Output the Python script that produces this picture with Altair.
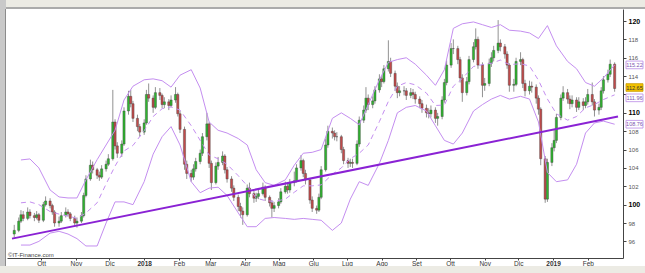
import altair as alt
import pandas as pd

# ---------------- data ----------------
first_open = 96.8
close = [
    97.2, 98.2, 98.9, 98.5, 99.2, 98.8, 98.6, 98.9, 98.3, 100.0,
    100.4, 99.9, 99.2, 98.0, 98.2, 98.8, 99.2, 99.0, 98.5, 98.0,
    98.2, 98.8, 101.0, 102.8, 104.3, 103.8, 103.2, 103.0, 103.9, 104.4,
    105.0, 109.0, 106.4, 105.6, 106.6, 110.2, 111.8, 111.0, 109.4, 108.5,
    107.9, 108.9, 112.0, 111.6, 110.6, 112.2, 111.9, 110.9, 111.2, 110.8,
    111.4, 112.0, 109.9, 108.2, 104.4, 103.4, 103.0, 103.9, 104.7, 105.6,
    107.4, 108.8, 104.5, 102.4, 104.2, 104.6, 105.3, 103.8, 102.8, 101.8,
    100.8, 99.8, 99.3, 98.9, 101.8, 101.2, 100.7, 100.9, 101.2, 101.9,
    100.8, 100.2, 99.6, 99.9, 100.3, 101.4, 102.0, 101.6, 102.4, 102.6,
    104.0, 104.8, 103.4, 102.7, 100.5, 99.6, 99.4, 100.8, 103.8, 106.5,
    108.0, 107.8, 107.4, 107.4, 106.0, 104.8, 104.5, 104.6, 104.5, 106.6,
    109.2, 110.3, 111.6, 110.9, 111.3, 112.5, 113.7, 113.4, 114.8, 115.6,
    114.3, 112.9, 112.2, 112.4, 112.4, 111.9, 112.2, 112.0, 111.5, 111.0,
    110.5, 110.0, 109.9, 110.3, 109.4, 109.6, 111.4, 113.3, 115.2, 117.0,
    117.0, 115.8, 113.8, 112.2, 113.4, 115.8, 117.2, 118.0, 115.2, 113.0,
    113.2, 115.4, 116.0, 116.8, 117.6, 117.2, 116.4, 115.2, 113.0, 113.1,
    115.6, 115.8, 113.2, 112.4, 112.9, 112.8, 111.6, 110.4, 105.0, 100.6,
    104.6, 106.2, 107.0, 109.5, 111.6, 112.2, 111.5, 111.0, 111.4, 110.6,
    111.2, 110.8, 111.2, 112.0, 111.2, 110.3, 110.6, 112.4, 113.6, 114.2,
    115.3, 112.65,
]
high = [
    97.8, 98.6, 99.4, 99.3, 99.7, 99.5, 99.1, 99.3, 99.1, 100.3,
    100.9, 100.7, 100.1, 99.4, 98.7, 99.2, 99.7, 99.5, 99.2, 98.8,
    98.6, 99.2, 101.3, 103.2, 104.9, 104.7, 104.0, 103.6, 104.3, 104.8,
    105.5, 112.5, 109.3, 106.8, 107.0, 110.6, 112.4, 112.5, 111.3, 109.8,
    108.8, 109.3, 112.5, 113.2, 111.9, 112.8, 112.7, 112.1, 111.7, 111.5,
    111.9, 112.8, 112.2, 110.2, 108.5, 104.8, 103.8, 104.4, 105.1, 106.0,
    107.8, 110.0, 109.0, 104.8, 104.6, 105.2, 105.8, 105.5, 104.1, 103.1,
    102.1, 101.1, 100.2, 99.7, 102.2, 102.4, 101.5, 101.3, 101.6, 102.4,
    102.1, 101.0, 100.5, 100.3, 100.7, 101.8, 102.5, 102.3, 102.8, 103.6,
    104.4, 105.4, 105.0, 103.8, 102.9, 100.9, 99.9, 101.2, 104.2, 107.2,
    108.6, 108.4, 108.1, 107.9, 107.6, 106.3, 105.1, 105.0, 105.0, 107.0,
    109.6, 110.8, 112.8, 112.0, 111.8, 112.9, 114.2, 114.0, 115.2, 117.9,
    116.0, 114.6, 113.3, 112.9, 112.9, 112.7, 112.7, 112.6, 112.3, 111.8,
    111.4, 110.9, 110.5, 110.8, 110.6, 110.0, 111.8, 113.7, 115.7, 117.6,
    118.0, 117.3, 116.1, 114.2, 113.9, 116.2, 117.7, 119.2, 118.3, 115.5,
    113.8, 115.9, 116.6, 117.3, 120.1, 118.0, 117.5, 116.7, 115.4, 113.7,
    116.0, 116.6, 116.0, 113.6, 113.5, 113.4, 113.1, 111.9, 110.6, 105.3,
    105.0, 106.7, 108.2, 109.9, 112.0, 112.9, 112.6, 111.9, 111.9, 111.7,
    111.7, 111.6, 111.7, 112.6, 113.3, 111.5, 111.0, 112.8, 114.0, 114.7,
    115.8, 115.5,
]
low = [
    96.4, 97.0, 98.0, 98.2, 98.3, 98.5, 98.2, 98.4, 98.0, 98.1,
    99.8, 99.6, 98.9, 97.6, 97.6, 98.0, 98.6, 98.7, 98.2, 97.6,
    97.5, 98.0, 98.6, 100.8, 102.6, 103.4, 102.8, 102.6, 102.8, 103.6,
    104.2, 104.8, 106.0, 105.1, 105.2, 106.4, 109.8, 110.6, 109.0, 108.0,
    107.4, 107.6, 108.7, 111.2, 110.0, 110.4, 111.4, 110.5, 110.5, 110.3,
    110.6, 111.1, 109.6, 107.8, 103.8, 102.8, 102.5, 102.7, 103.6, 104.4,
    105.3, 107.0, 104.0, 101.6, 102.2, 103.8, 104.3, 103.4, 102.4, 101.4,
    100.4, 99.3, 98.6, 97.8, 98.7, 100.8, 100.2, 100.3, 100.6, 101.0,
    100.4, 99.8, 98.6, 99.2, 99.6, 100.1, 101.2, 101.2, 101.3, 102.0,
    102.4, 103.7, 103.0, 102.2, 100.1, 99.2, 99.0, 99.2, 100.6, 103.6,
    106.2, 107.2, 107.0, 106.9, 105.6, 104.4, 104.0, 104.1, 104.0, 104.3,
    106.3, 108.9, 110.0, 110.3, 110.5, 111.0, 112.2, 112.8, 113.2, 114.5,
    113.9, 112.4, 111.6, 111.8, 111.9, 111.4, 111.6, 111.5, 111.0, 110.5,
    110.0, 109.5, 109.4, 109.5, 108.9, 108.6, 109.3, 111.1, 113.0, 114.9,
    116.4, 115.3, 113.3, 111.2, 111.9, 113.1, 115.5, 116.9, 114.8, 111.7,
    112.4, 112.9, 115.0, 115.6, 116.5, 116.7, 115.9, 114.8, 112.3, 112.3,
    112.9, 115.2, 112.7, 111.8, 112.0, 112.2, 111.0, 109.8, 104.3, 100.2,
    100.3, 104.2, 105.8, 106.7, 109.2, 111.3, 111.0, 110.4, 110.6, 110.1,
    110.3, 110.3, 110.5, 110.9, 110.8, 109.6, 109.8, 110.3, 112.1, 113.3,
    113.9, 112.3,
]
# Bollinger bands, read every third candle
upper = [
    104.87, 104.98, 104.0, 101.6, 100.84, 100.73, 100.73, 102.7, 104.9, 106.5,
    108.1, 111.4, 112.9, 113.6, 113.7, 113.5, 112.8, 114.1, 114.7, 112.7,
    109.0, 108.1, 107.8, 107.2, 106.5, 103.8, 102.4, 102.1, 102.7, 104.3,
    105.6, 105.7, 106.0, 109.4, 110.0, 109.4, 108.7, 110.9, 113.6, 115.5,
    115.8, 116.0, 115.3, 114.1, 113.0, 114.7, 119.2, 119.7, 119.9, 119.6,
    119.3, 119.6, 119.0, 118.9, 118.7, 118.1, 119.5, 117.3, 115.6, 114.8,
    113.3, 112.9, 113.8, 115.22,
]
middle = [
    100.2, 100.3, 100.0, 99.25, 98.97, 98.77, 98.5, 99.1, 100.2, 102.25,
    104.2, 105.85, 106.45, 108.05, 109.6, 110.45, 110.65, 110.3, 108.6, 107.0,
    105.4, 105.0, 104.4, 103.15, 102.05, 100.7, 100.45, 100.35, 100.6, 101.35,
    102.05, 102.05, 102.15, 103.3, 104.0, 105.0, 105.6, 106.5, 109.05, 111.25,
    112.9, 113.3, 113.05, 112.15, 110.8, 110.85, 112.9, 113.75, 115.05, 115.25,
    115.4, 115.75, 115.25, 115.35, 115.1, 113.55, 111.5, 109.9, 109.2, 109.6,
    110.55, 110.9, 111.45, 111.96,
]
lower = [
    95.6, 95.6, 96.0, 96.9, 97.1, 96.8, 96.3, 95.5, 95.5, 98.0,
    100.3, 100.3, 100.0, 102.5, 105.5, 107.4, 108.5, 106.5, 102.5, 101.3,
    101.8, 101.9, 101.0, 99.1, 97.6, 97.6, 98.5, 98.6, 98.5, 98.4,
    98.5, 98.4, 98.3, 97.2, 98.0, 100.6, 102.5, 102.1, 104.5, 107.0,
    110.0, 110.6, 110.8, 110.2, 108.6, 107.0, 106.6, 107.8, 110.2, 110.9,
    111.5, 111.9, 111.5, 111.8, 111.5, 109.0, 103.5, 102.5, 102.7, 104.4,
    107.8, 108.9, 109.1, 108.76,
]
trend_dates = ["2017-09-05T00:00:00", "2019-02-28T00:00:00"]
trend_values = [96.3, 109.6]
month_ticks = [(2017, 10), (2017, 11), (2017, 12), (2018, 1), (2018, 2), (2018, 3),
               (2018, 4), (2018, 5), (2018, 6), (2018, 7), (2018, 8), (2018, 9),
               (2018, 10), (2018, 11), (2018, 12), (2019, 1), (2019, 2)]
y_ticks = [96, 98, 100, 102, 104, 106, 108, 110, 112, 114, 116, 118, 120]
last_close = 112.65
band_last_outer = [115.22, 108.76]
band_last_mid = [111.96]
watermark = "©IT-Finance.com"

# ---------------- tables ----------------
dates = pd.bdate_range("2017-09-07", "2019-02-26")[::2][:len(close)]
opens = [first_open] + close[:-1]
candles = pd.DataFrame({
    "date": dates.strftime("%Y-%m-%dT00:00:00"),
    "open": opens, "high": high, "low": low, "close": close,
})
band_dates = dates[2::3][:len(upper)]
bands = pd.DataFrame({
    "date": band_dates.strftime("%Y-%m-%dT00:00:00"),
    "upper": upper, "middle": middle, "lower": lower,
})
trend = pd.DataFrame({"date": trend_dates, "v": trend_values})
outer_df = pd.DataFrame({"v": band_last_outer, "label": [f"{v:.2f}" for v in band_last_outer]})
mid_df = pd.DataFrame({"v": band_last_mid, "label": [f"{v:.2f}" for v in band_last_mid]})
last_df = pd.DataFrame({"v": [last_close], "label": [f"{last_close:.2f}"]})
one = pd.DataFrame({"a": [0]})

W, H = 616, 249
FONT = "Liberation Sans"
BAND = "#c48ef0"
xscale = alt.Scale(domain=[alt.DateTime(year=2017, month=9, date=5),
                           alt.DateTime(year=2019, month=2, date=28)])
yscale = alt.Scale(domain=[94.19, 121.31], zero=False, nice=False)

x_axis = alt.Axis(
    values=[alt.DateTime(year=y, month=m, date=1) for y, m in month_ticks],
    labelExpr="month(datum.value) == 0 ? timeFormat(datum.value, '%Y') : "
              "['Gen','Feb','Mar','Apr','Mag','Giu','Lug','Ago','Set','Ott','Nov','Dic'][month(datum.value)]",
    labelFontWeight={"condition": {"test": "month(datum.value) == 0", "value": "bold"}, "value": "normal"},
    labelFontSize=6.5, labelColor="#333", labelFont=FONT, labelPadding=0,
    tickSize=2, tickColor="#444", domainColor="#444", grid=False, title=None,
    labelOverlap=False,
)
# the 112 label sits under the value boxes in the reference, so it is left blank
y_axis = alt.Axis(
    orient="right", values=y_ticks,
    labelExpr="datum.value == 112 ? '' : format(datum.value, 'd')",
    labelFontWeight={"condition": {"test": "datum.value % 10 == 0", "value": "bold"}, "value": "normal"},
    labelFontSize={"condition": {"test": "datum.value % 10 == 0", "value": 7}, "value": 6},
    labelColor={"condition": {"test": "datum.value % 10 == 0", "value": "#000"}, "value": "#555"},
    labelFont=FONT, labelPadding=2, tickSize=3, tickColor="#444", domainColor="#444",
    grid=False, title=None, labelOverlap=False,
)


def X():
    return alt.X("date:T", scale=xscale, axis=x_axis)


def Y(field):
    return alt.Y(field, scale=yscale, axis=y_axis)


# ---------------- layers ----------------
decor_top = alt.Chart(one).mark_rect(color="#ecebe4").encode(
    x=alt.value(-7), x2=alt.value(638), y=alt.value(-9), y2=alt.value(-2))
decor_top_line = alt.Chart(one).mark_rect(color="#ababab").encode(
    x=alt.value(-7), x2=alt.value(638), y=alt.value(-2), y2=alt.value(0))
decor_left = alt.Chart(one).mark_rect(color="#c9c9c9").encode(
    x=alt.value(-7), x2=alt.value(-1), y=alt.value(-9), y2=alt.value(257))
decor_left_line = alt.Chart(one).mark_rect(color="#8c8c8c").encode(
    x=alt.value(-2), x2=alt.value(-1), y=alt.value(0), y2=alt.value(257))
decor_bottom = alt.Chart(one).mark_rect(color="#ecebe4").encode(
    x=alt.value(-7), x2=alt.value(638), y=alt.value(257), y2=alt.value(264))

wicks = alt.Chart(candles).mark_rule(color="#767676", strokeWidth=0.8, clip=True).encode(
    x=X(), y=Y("low:Q"), y2="high:Q")
bodies = alt.Chart(candles).mark_bar(width=2.2, stroke="#3c3c3c", strokeWidth=0.4, clip=True).encode(
    x=X(), y=Y("open:Q"), y2="close:Q",
    color=alt.condition("datum.close >= datum.open", alt.value("#2fb52f"), alt.value("#c24b4b")))

upper_line = alt.Chart(bands).mark_line(color=BAND, strokeWidth=1, clip=True).encode(
    x=X(), y=Y("upper:Q"))
lower_line = alt.Chart(bands).mark_line(color=BAND, strokeWidth=1, clip=True).encode(
    x=X(), y=Y("lower:Q"))
mid_line = alt.Chart(bands).mark_line(color=BAND, strokeWidth=1, strokeDash=[5, 4], clip=True).encode(
    x=X(), y=Y("middle:Q"))

trend_line = alt.Chart(trend).mark_line(color="#8a22d4", strokeWidth=2, clip=True).encode(
    x=X(), y=Y("v:Q"))

BOX = "M-1,-0.45L1,-0.45L1,0.45L-1,0.45Z"
outer_box = alt.Chart(outer_df).mark_point(shape=BOX, size=289, filled=True, fill="white",
                                           stroke="#b98ae6", strokeWidth=0.8, opacity=1).encode(
    x=alt.value(627.5), y=Y("v:Q"))
outer_txt = alt.Chart(outer_df).mark_text(fontSize=5.5, font=FONT, color="#7d55b0").encode(
    x=alt.value(627.5), y=Y("v:Q"), text="label:N")
last_box = alt.Chart(last_df).mark_point(shape=BOX, size=289, filled=True, fill="#f2c200",
                                         stroke="#c99a00", strokeWidth=0.8, opacity=1, yOffset=-1).encode(
    x=alt.value(627.5), y=Y("v:Q"))
last_txt = alt.Chart(last_df).mark_text(fontSize=5.5, font=FONT, color="#333", yOffset=-1).encode(
    x=alt.value(627.5), y=Y("v:Q"), text="label:N")
mid_box = alt.Chart(mid_df).mark_point(shape=BOX, size=289, filled=True, fill="white",
                                       stroke="#b98ae6", strokeWidth=0.8, opacity=1, yOffset=3).encode(
    x=alt.value(627.5), y=Y("v:Q"))
mid_txt = alt.Chart(mid_df).mark_text(fontSize=5.5, font=FONT, color="#7d55b0", yOffset=3).encode(
    x=alt.value(627.5), y=Y("v:Q"), text="label:N")

wm = alt.Chart(one).mark_text(text=watermark, fontSize=6, font=FONT, color="#444",
                              align="left", baseline="middle").encode(
    x=alt.value(1), y=alt.value(246))

chart = alt.layer(
    wicks, bodies,
    upper_line, lower_line, mid_line,
    trend_line,
    last_box, last_txt, mid_box, mid_txt, outer_box, outer_txt,
    wm,
    decor_top, decor_top_line, decor_left, decor_left_line, decor_bottom,
).properties(
    width=W, height=H,
    autosize=alt.AutoSizeParams(type="none"),
    padding={"left": 7, "top": 9, "right": 22, "bottom": 15},
    background="white",
).configure_view(stroke=None)

chart.save("out.html", embed_options={"renderer": "svg", "actions": False})
